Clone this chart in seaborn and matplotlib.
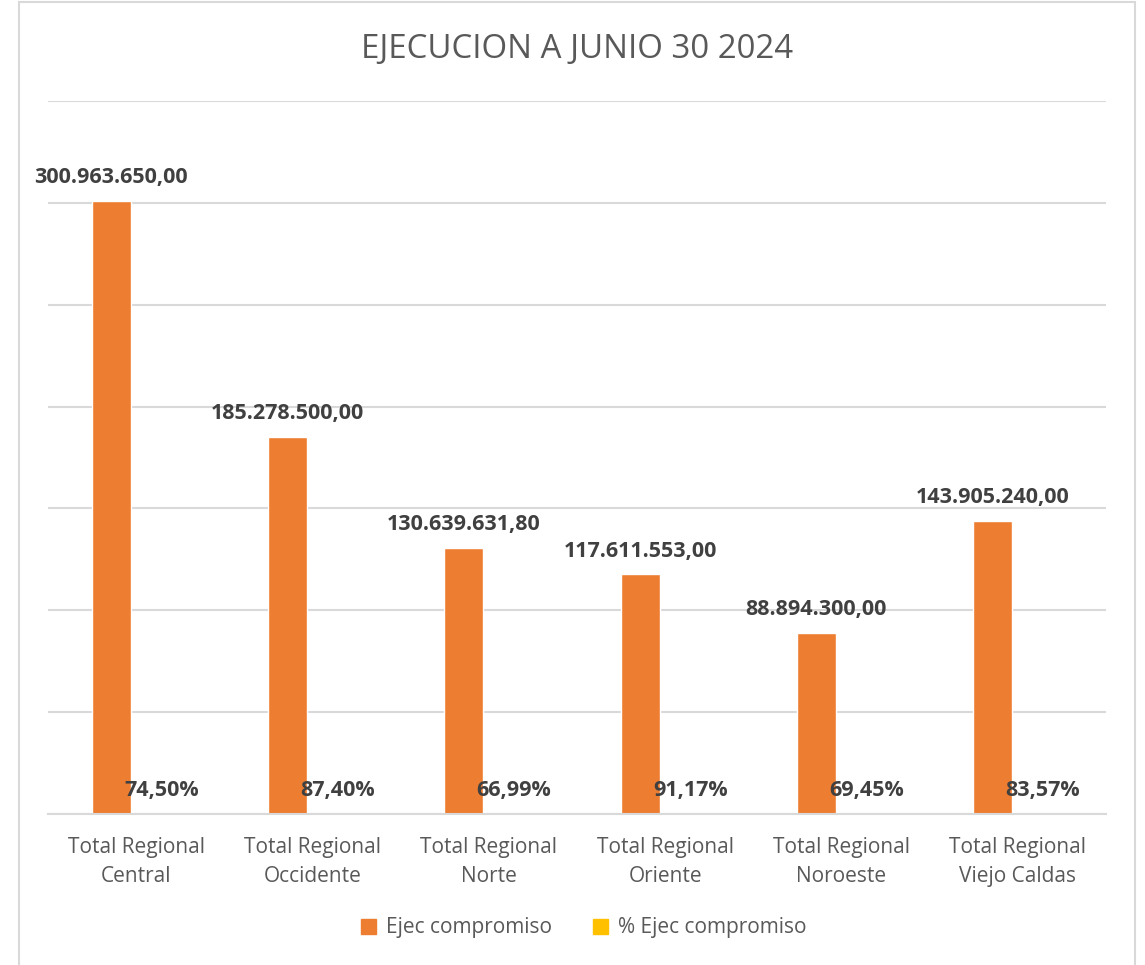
import pandas as pd
import matplotlib.pyplot as plt
import matplotlib.patches as mpatches
import seaborn as sns

# data
regionales = ['Total Regional\nCentral', 'Total Regional\nOccidente', 'Total Regional\nNorte',
              'Total Regional\nOriente', 'Total Regional\nNoroeste', 'Total Regional\nViejo Caldas']
ejec_compromiso = [300963650.00, 185278500.00, 130639631.80, 117611553.00, 88894300.00, 143905240.00]
pct_ejec = [0.7450, 0.8740, 0.6699, 0.9117, 0.6945, 0.8357]
series = ['Ejec compromiso', '% Ejec compromiso']
colores = ['#ED7D31', '#FFC000']


def fmt_es(v, dec=2):
    s = f'{v:,.{dec}f}'
    return s.replace(',', 'X').replace('.', ',').replace('X', '.')


df = pd.concat([
    pd.DataFrame({'Regional': regionales, 'Valor': ejec_compromiso, 'Serie': series[0]}),
    pd.DataFrame({'Regional': regionales, 'Valor': pct_ejec, 'Serie': series[1]}),
])

sns.set_theme(style='white')
plt.rcParams['font.family'] = ['Open Sans', 'DejaVu Sans']

fig = plt.figure(figsize=(11.45, 9.65), dpi=100)
ax = fig.add_axes([48/1145, 1-814/965, (1106-48)/1145, (814-101)/965])

sns.barplot(data=df, x='Regional', y='Valor', hue='Serie', palette=colores,
            width=0.57, gap=0.225, ax=ax, legend=False, saturation=1)

ax.set_ylim(0, 350000000)
ax.set_xlim(-0.5, len(regionales) - 0.5)
ax.set_yticks(range(0, 350000001, 50000000))
ax.set_yticklabels([])
ax.tick_params(axis='y', length=0)
ax.tick_params(axis='x', length=0, labelsize=15, colors='#595959', pad=16.5)
for lbl in ax.get_xticklabels():
    lbl.set_linespacing(1.52)
ax.grid(axis='y', color='#D9D9D9', linewidth=1.5)
ax.set_axisbelow(True)
for s in ['top', 'left', 'right']:
    ax.spines[s].set_visible(False)
ax.spines['bottom'].set_color('#D9D9D9')
ax.spines['bottom'].set_linewidth(1.5)
ax.set_xlabel('')
ax.set_ylabel('')

# data labels
ax.bar_label(ax.containers[0], labels=[fmt_es(v) for v in ejec_compromiso],
             padding=9, fontsize=15.5, fontweight='bold', color='#404040')
ax.bar_label(ax.containers[1], labels=[fmt_es(p * 100) + '%' for p in pct_ejec],
             padding=9, fontsize=15.5, fontweight='bold', color='#404040')

fig.text(0.504, 1-49/965, 'EJECUCION A JUNIO 30 2024', ha='center', va='center',
         fontsize=23.8, color='#595959')

handles = [mpatches.Patch(color=c, label=l) for c, l in zip(colores, series)]
fig.legend(handles=handles, loc='center', bbox_to_anchor=(0.510, 1-928/965), ncol=2,
           frameon=False, fontsize=15, labelcolor='#595959', handlelength=0.72,
           handleheight=0.72, handletextpad=0.5, columnspacing=1.95)

# chart area border
fig.patches.append(mpatches.Rectangle((19/1145, -0.02), (1135-19)/1145, 1.02-2/965,
                                      transform=fig.transFigure, fill=False,
                                      edgecolor='#D9D9D9', linewidth=1.5))

fig.savefig('out.png', dpi=100, facecolor='white')
